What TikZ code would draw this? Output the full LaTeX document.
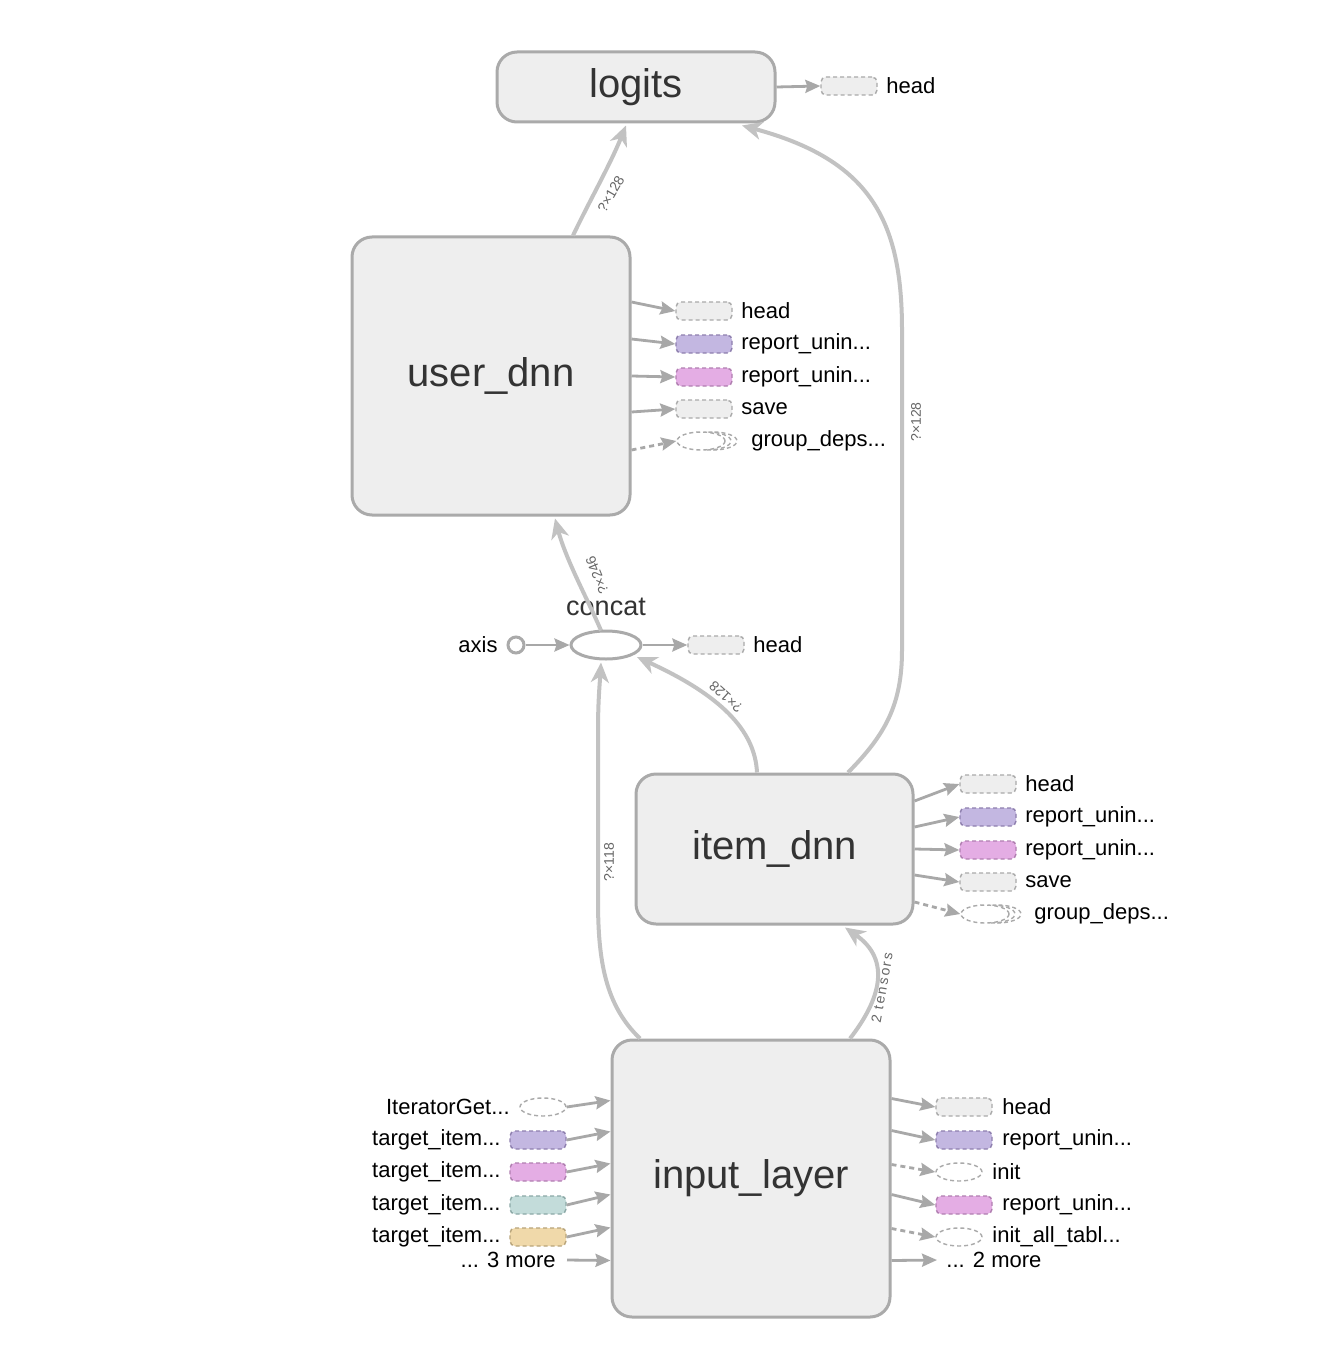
\documentclass[tikz,border=0pt]{standalone}
\usepackage{fontspec}
\setmainfont{Liberation Sans}
\usetikzlibrary{arrows.meta,calc,shapes.geometric}
\definecolor{boxfill}{HTML}{EEEEEE}
\definecolor{boxborder}{HTML}{AAAAAA}
\definecolor{edgecol}{HTML}{C2C2C2}
\definecolor{arrowcol}{HTML}{A8A8A8}
\definecolor{bigtext}{HTML}{333333}
\definecolor{labelgray}{HTML}{666666}
\definecolor{purplefill}{HTML}{C3B7E1}
\definecolor{purpleline}{HTML}{8E7FAE}
\definecolor{pinkfill}{HTML}{E4ADE4}
\definecolor{pinkline}{HTML}{B07EB0}
\definecolor{tealfill}{HTML}{C3DCDA}
\definecolor{tealline}{HTML}{8BA8A6}
\definecolor{tanfill}{HTML}{F0D9AA}
\definecolor{tanline}{HTML}{B8A47A}
\begin{document}
\begin{tikzpicture}[x=0.5pt,y=-0.5pt,
  bigbox/.style={draw=boxborder, fill=boxfill, line width=1.5pt, rounded corners=10pt,
    text=bigtext, font=\fontsize{20}{24}\selectfont, inner sep=0pt},
  outbox/.style={draw, line width=0.7pt, rounded corners=2.5pt, dash pattern=on 2pt off 1.5pt,
    minimum width=28pt, minimum height=9pt, inner sep=0pt},
  graybox/.style={outbox, fill=boxfill, draw=boxborder},
  purplebox/.style={outbox, fill=purplefill, draw=purpleline},
  pinkbox/.style={outbox, fill=pinkfill, draw=pinkline},
  tealbox/.style={outbox, fill=tealfill, draw=tealline},
  tanbox/.style={outbox, fill=tanfill, draw=tanline},
  outell/.style={ellipse, draw=boxborder, line width=0.7pt, dash pattern=on 2pt off 1.5pt,
    minimum width=23pt, minimum height=9pt, inner sep=0pt},
  lbl/.style={font=\fontsize{11}{13}\selectfont, inner sep=0pt, text=black},
  edge/.style={draw=edgecol, line width=2pt, -{Stealth[length=10pt,width=9pt,inset=3pt]}},
  small/.style={draw=arrowcol, line width=1.4pt, -{Stealth[length=7.5pt,width=6.5pt,inset=1pt]}},
  smalld/.style={small, dash pattern=on 2.5pt off 2pt},
  elbl/.style={font=\fontsize{7}{8}\selectfont, text=labelgray, inner sep=0pt},
  stackarc/.style={draw=boxborder, line width=0.7pt, dash pattern=on 2pt off 1.5pt}
]
\useasboundingbox[fill=white] (0,0) rectangle (1322,1348);

% main nodes
\node[bigbox, minimum width=139pt, minimum height=35pt] (logits) at (636,87) {logits};
\node[bigbox, minimum width=139pt, minimum height=139pt] (user) at (491,376) {user\_dnn};
\node[bigbox, minimum width=138.5pt, minimum height=75pt] (item) at (774.5,849) {item\_dnn};
\node[bigbox, minimum width=139pt, minimum height=138.5pt] (input) at (751,1178.5) {input\_layer};

% concat
\node[draw=boxborder, line width=1.5pt, ellipse, minimum width=35pt, minimum height=14pt, inner sep=0pt, fill=white] (concat) at (606,645) {};
\node[font=\fontsize{13.5}{16}\selectfont, text=bigtext, inner sep=0pt] (concatlbl) at (606,607) {concat};
\node[circle, draw=boxborder, line width=1.5pt, minimum size=8pt, inner sep=0pt, fill=white] (axis) at (516,645) {};
\node[lbl, anchor=east] (axislbl) at (498,645) {axis};
\node[graybox] (chead) at (716,645) {};
\node[lbl, anchor=west] (cheadlbl) at (753,645) {head};
\draw[small] (axis) -- (concat);
\draw[small] (concat) -- (chead);

% logits head
\node[graybox] (lhead) at (849,86) {};
\node[lbl, anchor=west] (lheadlbl) at (886,86) {head};
\draw[small] (logits.east) -- (lhead.west);

% user_dnn outputs
\node[graybox] (uh) at (704,311) {};
\node[purplebox] (ur1) at (704,344) {};
\node[pinkbox] (ur2) at (704,377) {};
\node[graybox] (us) at (704,409) {};
\node[outell, minimum width=24pt] (ug) at (701,441) {};
\draw[stackarc] (707,450) arc[start angle=-90, end angle=90, x radius=12pt, y radius=4.5pt];
\draw[stackarc] (713,450) arc[start angle=-90, end angle=90, x radius=12pt, y radius=4.5pt];
\node[lbl, anchor=west] (uhl) at (741,311) {head};
\node[lbl, anchor=west] (ur1l) at (741,344) {report\_unin...};
\node[lbl, anchor=west] (ur2l) at (741,377) {report\_unin...};
\node[lbl, anchor=west] (usl) at (741,409) {save};
\node[lbl, anchor=west] (ugl) at (751,441) {group\_deps...};
\draw[small] ($(user.east)+(0,-74)$) -- (uh.west);
\draw[small] ($(user.east)+(0,-37)$) -- (ur1.west);
\draw[small] ($(user.east)+(0,0)$) -- (ur2.west);
\draw[small] ($(user.east)+(0,36)$) -- (us.west);
\draw[smalld] ($(user.east)+(0,74)$) -- (ug.west);

% item_dnn outputs
\node[graybox] (ih) at (988,784) {};
\node[purplebox] (ir1) at (988,817) {};
\node[pinkbox] (ir2) at (988,850) {};
\node[graybox] (is) at (988,882) {};
\node[outell, minimum width=24pt] (ig2) at (985,914) {};
\draw[stackarc] (991,923) arc[start angle=-90, end angle=90, x radius=12pt, y radius=4.5pt];
\draw[stackarc] (997,923) arc[start angle=-90, end angle=90, x radius=12pt, y radius=4.5pt];
\node[lbl, anchor=west] (ihl) at (1025,784) {head};
\node[lbl, anchor=west] (ir1l) at (1025,817) {report\_unin...};
\node[lbl, anchor=west] (ir2l) at (1025,850) {report\_unin...};
\node[lbl, anchor=west] (isl) at (1025,882) {save};
\node[lbl, anchor=west] (igl) at (1034,914) {group\_deps...};
\draw[small] ($(item.east)+(0,-48)$) -- (ih.west);
\draw[small] ($(item.east)+(0,-22)$) -- (ir1.west);
\draw[small] ($(item.east)+(0,0)$) -- (ir2.west);
\draw[small] ($(item.east)+(0,26)$) -- (is.west);
\draw[smalld] ($(item.east)+(0,53)$) -- (ig2.west);

% input_layer inputs
\node[outell] (iget) at (543,1107) {};
\node[purplebox] (t1) at (538,1140) {};
\node[pinkbox] (t2) at (538,1172) {};
\node[tealbox] (t3) at (538,1205) {};
\node[tanbox] (t4) at (538,1237) {};
\node[lbl, anchor=east] (igetl) at (510,1107) {IteratorGet...};
\node[lbl, anchor=east] (t1l) at (501,1140) {target\_item...};
\node[lbl, anchor=east] (t2l) at (501,1172) {target\_item...};
\node[lbl, anchor=east] (t3l) at (501,1205) {target\_item...};
\node[lbl, anchor=east] (t4l) at (501,1237) {target\_item...};
\node[lbl, anchor=east] (m3) at (556,1260) {... 3 more};
\draw[small] (iget.east) -- ($(input.west)+(0,-78)$);
\draw[small] (t1.east) -- ($(input.west)+(0,-47)$);
\draw[small] (t2.east) -- ($(input.west)+(0,-15)$);
\draw[small] (t3.east) -- ($(input.west)+(0,16)$);
\draw[small] (t4.east) -- ($(input.west)+(0,49)$);
\draw[small] ($(m3.east)+(11,0)$) -- ($(input.west)+(0,82)$);

% input_layer outputs
\node[graybox] (oh) at (964,1107) {};
\node[purplebox] (or1) at (964,1140) {};
\node[outell] (oi) at (959,1172) {};
\node[pinkbox] (or2) at (964,1205) {};
\node[outell] (oa) at (959,1237) {};
\node[lbl, anchor=west] (ohl) at (1002,1107) {head};
\node[lbl, anchor=west] (or1l) at (1002,1140) {report\_unin...};
\node[lbl, anchor=west] (oil) at (992,1172) {init};
\node[lbl, anchor=west] (or2l) at (1002,1205) {report\_unin...};
\node[lbl, anchor=west] (oal) at (992,1237) {init\_all\_tabl...};
\node[lbl, anchor=west] (m2) at (946,1260) {... 2 more};
\draw[small] ($(input.east)+(0,-80)$) -- (oh.west);
\draw[small] ($(input.east)+(0,-48)$) -- (or1.west);
\draw[smalld] ($(input.east)+(0,-14)$) -- (oi.west);
\draw[small] ($(input.east)+(0,16)$) -- (or2.west);
\draw[smalld] ($(input.east)+(0,50)$) -- (oa.west);
\draw[small] ($(input.east)+(0,82)$) -- ($(m2.west)+(-9,0)$);

% main edges
\draw[edge] ($(user.north)+(82,0)$) .. controls (590,200) and (610,165) .. ($(logits.south)+(-10,2)$);
\draw[edge] ($(item.north)+(73.5,0)$) .. controls (885,735) and (902,705) .. (902,650)
   -- (902,330) .. controls (902,220) and (870,160) .. ($(logits.south)+(106,2)$);
\draw[edge] ($(concat.north)+(-5,1)$) .. controls (588,600) and (566,560) .. ($(user.south)+(64,2)$);
\draw[edge] ($(item.north)+(-17.5,0)$) .. controls (755,730) and (720,695) .. ($(concat.center)+(31,12)$);
\draw[edge] ($(input.north)+(-111,0)$) .. controls (605,1005) and (598,960) .. (598,900)
   -- (598,730) .. controls (598,700) and (600,680) .. ($(concat.south)+(-5,2)$);
\draw[edge] ($(input.north)+(99,0)$) .. controls (880,1000) and (892,960) .. ($(item.south)+(70.5,2)$);

% edge labels
\node[elbl, rotate=60] (e1) at (611,194) {?×128};
\node[elbl, rotate=90] (e2) at (916,422) {?×128};
\node[elbl, rotate=112] (e3) at (597,575) {?×246};
\node[elbl, rotate=138] (e4) at (726,697) {?×128};
\node[elbl, rotate=90] (e5) at (609,862) {?×118};
\node[elbl, rotate=80] (e6) at (882,988) {\addfontfeature{LetterSpace=14}2 tensors};
\end{tikzpicture}
\end{document}
